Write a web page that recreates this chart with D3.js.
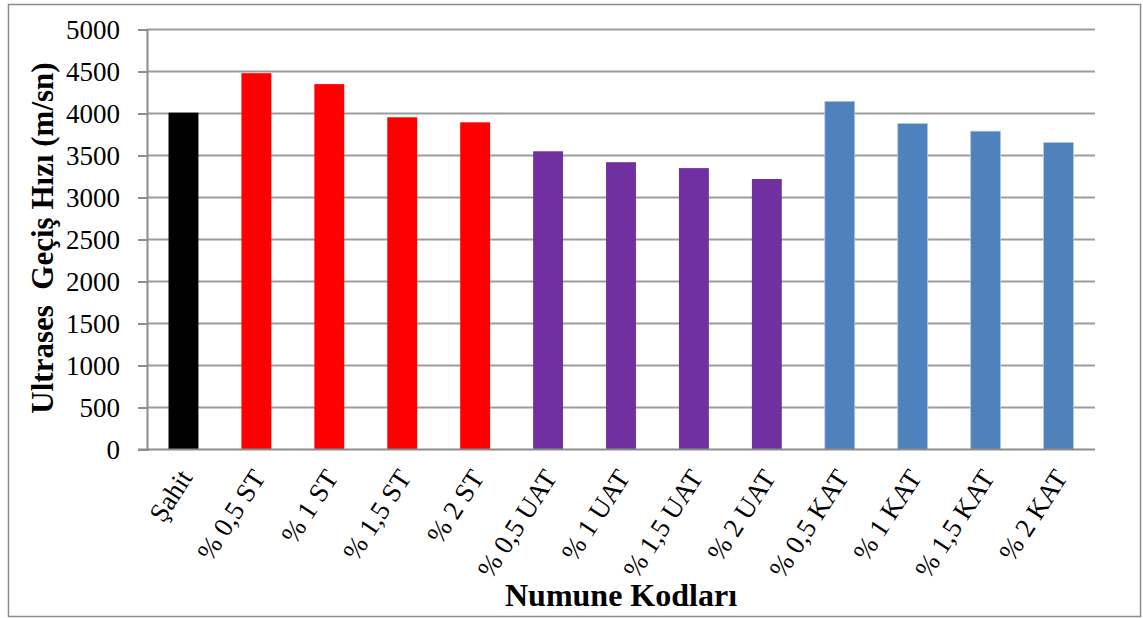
<!DOCTYPE html>
<html>
<head>
<meta charset="utf-8">
<script src="https://cdn.jsdelivr.net/npm/d3@7"></script>
<style>
  body { margin: 0; background: #fff; }
  svg text { font-family: "Liberation Serif", "Times New Roman", serif; fill: #000; }
</style>
</head>
<body>
<div class="chart"></div>
<script>
// Ultrases geçiş hızı - numune kodlarına göre
var categories = ['Şahit', '% 0,5 ST', '% 1 ST', '% 1,5 ST', '% 2 ST',
  '% 0,5 UAT', '% 1 UAT', '% 1,5 UAT', '% 2 UAT',
  '% 0,5 KAT', '% 1 KAT', '% 1,5 KAT', '% 2 KAT']
var values = [4010, 4480, 4350, 3955, 3895, 3550, 3420, 3350, 3220, 4145, 3880, 3790, 3655]
var groups = ['sahit', 'st', 'st', 'st', 'st', 'uat', 'uat', 'uat', 'uat', 'kat', 'kat', 'kat', 'kat']
var yTicks = [0, 500, 1000, 1500, 2000, 2500, 3000, 3500, 4000, 4500, 5000]

var colors = { sahit: '#000000', st: '#FF0000', uat: '#7030A0', kat: '#4F81BD' }

var W = 1143, H = 618
var margin = { top: 29.5, right: 48, bottom: 168.5, left: 147 }
var width = W - margin.left - margin.right
var height = H - margin.top - margin.bottom

var svg = d3.select('.chart')
  .append('svg')
  .attr('width', W)
  .attr('height', H)

// outer frame
svg.append('rect')
  .attr('x', 8.5).attr('y', 4.5)
  .attr('width', 1132).attr('height', 612)
  .attr('fill', 'none')
  .attr('stroke', '#8c8c8c')
  .attr('stroke-width', 1.5)

var g = svg.append('g')
  .attr('transform', 'translate(' + margin.left + ',' + margin.top + ')')

var xScale = d3.scaleBand()
  .domain(categories)
  .range([0, width])
  .paddingInner(0.59)
  .paddingOuter(0.295)

var yScale = d3.scaleLinear()
  .domain([0, 5000])
  .range([height, 0])

// gridlines
g.append('g')
  .selectAll('line')
  .data(yTicks.filter(d => d > 0))
  .enter()
  .append('line')
  .attr('x1', 0)
  .attr('x2', width)
  .attr('y1', d => yScale(d))
  .attr('y2', d => yScale(d))
  .attr('stroke', '#9c9c9c')
  .attr('stroke-width', 1.8)

// bars
g.selectAll('.bar')
  .data(values)
  .enter()
  .append('rect')
  .attr('class', 'bar')
  .attr('x', (d, i) => xScale(categories[i]))
  .attr('y', d => yScale(d))
  .attr('width', xScale.bandwidth())
  .attr('height', d => height - yScale(d))
  .attr('fill', (d, i) => colors[groups[i]])
  .attr('stroke', (d, i) => groups[i] === 'kat' ? '#b3c8e2' : 'none')
  .attr('stroke-width', 0.8)

// Y-axis
var yAxis = d3.axisLeft(yScale)
  .tickValues(yTicks)
  .tickSize(9)
  .tickPadding(18)
  .tickFormat(d3.format('d'))

var yG = g.append('g').call(yAxis)
yG.attr('font-family', null)
yG.select('.domain').attr('stroke', '#8c8c8c').attr('stroke-width', 2)
yG.selectAll('.tick line').attr('stroke', '#8c8c8c').attr('stroke-width', 2)
yG.selectAll('.tick text')
  .attr('font-size', 27)
  .attr('dy', '0.34em')

// X-axis baseline
g.append('line')
  .attr('x1', -9).attr('x2', width)
  .attr('y1', height).attr('y2', height)
  .attr('stroke', '#8c8c8c')
  .attr('stroke-width', 2)

// category labels
g.append('g')
  .selectAll('text')
  .data(categories)
  .enter()
  .append('text')
  .attr('transform', d => 'translate(' + (xScale(d) + xScale.bandwidth() / 2 + 10) + ',' + (height + 28) + ') rotate(-57)')
  .attr('text-anchor', 'end')
  .attr('font-size', 27)
  .text(d => d)

// axis titles
svg.append('text')
  .attr('x', margin.left + width / 2)
  .attr('y', 606)
  .attr('text-anchor', 'middle')
  .attr('font-size', 32)
  .attr('font-weight', 'bold')
  .text('Numune Kodları')

svg.append('text')
  .attr('transform', 'translate(53,238) rotate(-90)')
  .attr('text-anchor', 'middle')
  .attr('font-size', 31)
  .attr('font-weight', 'bold')
  .style('white-space', 'pre')
  .text('Ultrases  Geçiş Hızı (m/sn)')
</script>
</body>
</html>
